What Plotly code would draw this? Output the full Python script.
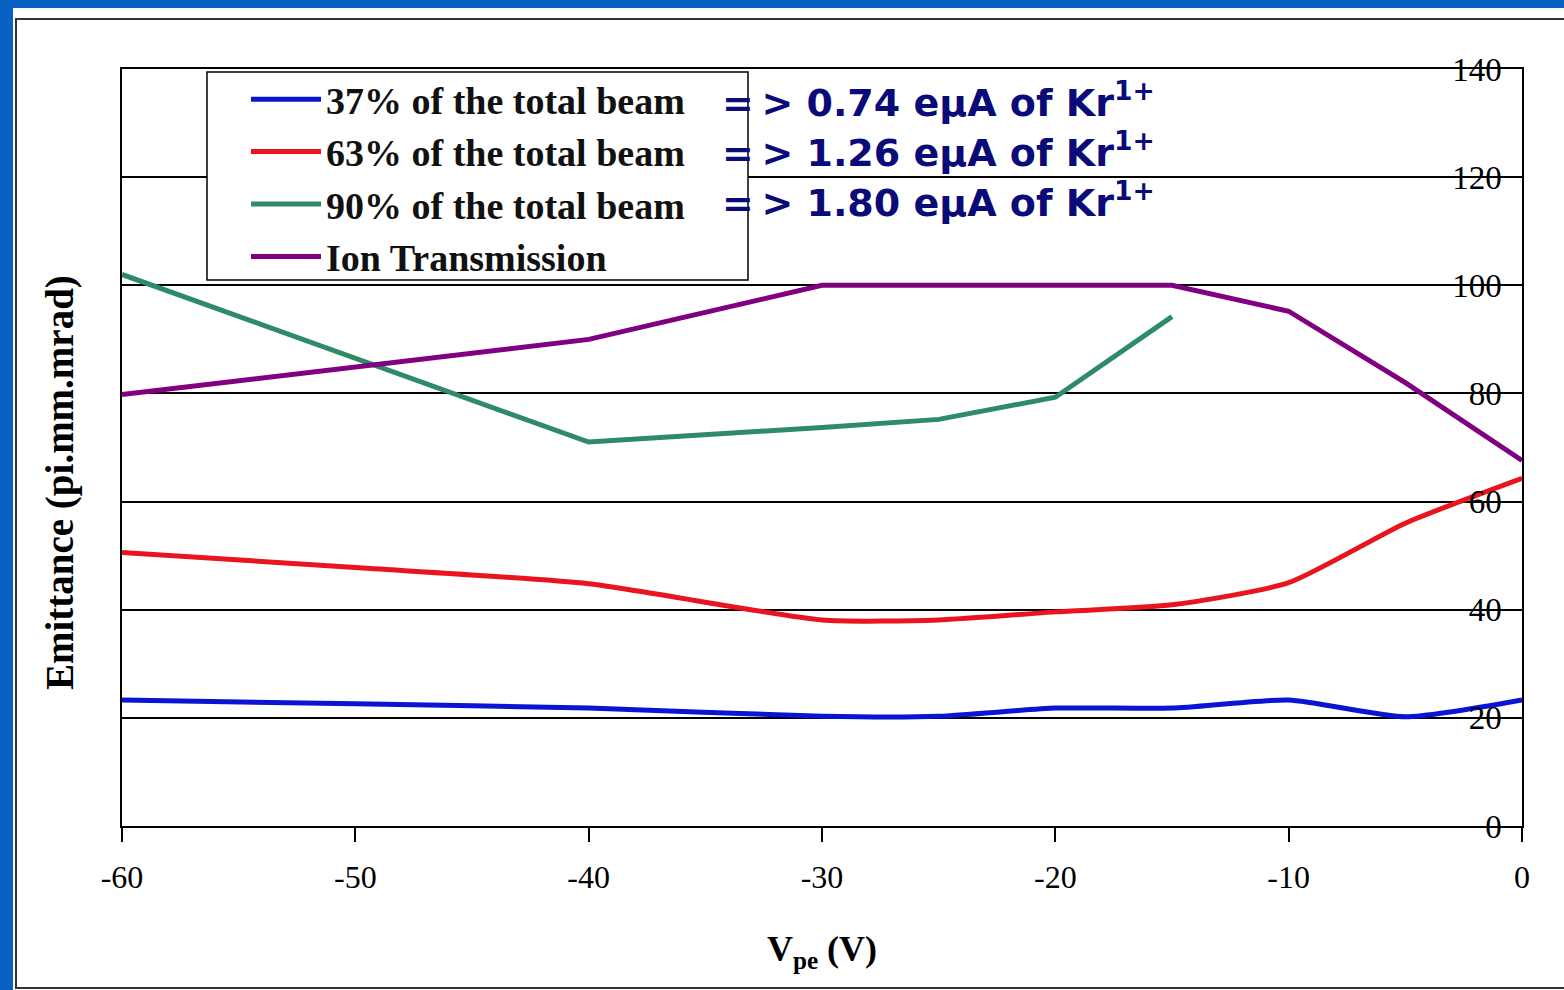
import plotly.graph_objects as go

# ---- data ----
vpe = [-60, -50, -40, -30, -25, -20, -15, -10, -5, 0]
beam37 = [23.3, 22.6, 21.8, 20.3, 20.3, 21.8, 21.8, 23.3, 20.2, 23.3]
beam63 = [50.6, 47.8, 44.8, 38.1, 38.1, 39.6, 40.9, 45.0, 56.0, 64.3]
vpe90 = [-60, -50, -40, -30, -25, -20, -15]
beam90 = [102.0, 86.5, 71.0, 73.7, 75.2, 79.3, 94.2]
ion_trans = [79.8, 85.0, 90.0, 100.0, 100.0, 100.0, 100.0, 95.2, 82.0, 67.6]

series_names = ["37% of the total beam", "63% of the total beam",
                "90% of the total beam", "Ion Transmission"]
currents = ["=\u2009> 0.74 eμA of Kr<sup>1+</sup>", "=\u2009> 1.26 eμA of Kr<sup>1+</sup>",
            "=\u2009> 1.80 eμA of Kr<sup>1+</sup>"]
x_ticks = [-60, -50, -40, -30, -20, -10, 0]
y_ticks = [0, 20, 40, 60, 80, 100, 120, 140]

# ---- pixel helpers (plot area: x 122..1522, y 69..826) ----
L, R, T, B = 122, 1522, 69, 826
def px(x):
    return (x - L) / (R - L)
def py(y):
    return (B - y) / (B - T)

fig = go.Figure()
fig.add_trace(go.Scatter(x=vpe, y=beam37, mode="lines", name=series_names[0],
                         line=dict(color="#0a14d2", width=5, shape="spline", smoothing=0.6)))
fig.add_trace(go.Scatter(x=vpe, y=beam63, mode="lines", name=series_names[1],
                         line=dict(color="#e8141e", width=5, shape="spline", smoothing=0.6)))
fig.add_trace(go.Scatter(x=vpe90, y=beam90, mode="lines", name=series_names[2],
                         line=dict(color="#2e8b66", width=5)))
fig.add_trace(go.Scatter(x=vpe, y=ion_trans, mode="lines", name=series_names[3],
                         line=dict(color="#800080", width=5)))

serif = "Liberation Serif"

shapes = [
    # white slide panel
    dict(type="rect", xref="paper", yref="paper", x0=px(13), x1=px(1600), y0=py(8), y1=py(1000),
         fillcolor="white", line=dict(width=0), layer="below"),
    # outer chart frame
    dict(type="rect", xref="paper", yref="paper", x0=px(16), x1=px(1600), y0=py(19), y1=py(988),
         fillcolor="rgba(0,0,0,0)", line=dict(color="#333333", width=2), layer="below"),
    # legend box
    dict(type="rect", xref="paper", yref="paper", x0=px(207), x1=px(748), y0=py(72), y1=py(280),
         fillcolor="white", line=dict(color="black", width=1.5), layer="above"),
]

annotations = [
    dict(text="Emittance (pi.mm.mrad)", xref="paper", yref="paper", x=px(60), y=py(483),
         textangle=-90, showarrow=False, xanchor="center", yanchor="middle",
         font=dict(family=serif, size=39, color="black", weight="bold")),
]
row_y = [100, 150, 200]
for txt, yy in zip(currents, row_y):
    annotations.append(dict(text="<b>" + txt + "</b>", xref="paper", yref="paper",
                            x=px(720), y=py(yy), xanchor="left", yanchor="middle",
                            showarrow=False,
                            font=dict(family="DejaVu Sans", size=38, color="#0a0a78")))

fig.update_layout(
    width=1564, height=990,
    margin=dict(l=L, r=1564 - R, t=T, b=990 - B),
    paper_bgcolor="#0862c4",
    plot_bgcolor="rgba(0,0,0,0)",
    showlegend=True,
    legend=dict(x=px(246), y=py(68), xanchor="left", yanchor="top",
                bgcolor="rgba(0,0,0,0)", borderwidth=0,
                font=dict(family=serif, size=38, color="#111111", weight="bold"),
                itemwidth=70, tracegroupgap=0),
    xaxis=dict(range=[-60, 0.0001], tickvals=x_ticks, ticktext=[str(v) for v in x_ticks],
               showgrid=False, zeroline=False, showline=True, mirror=True,
               linecolor="black", linewidth=1.5,
               ticks="outside", ticklen=14, tickcolor="black", tickwidth=1.5,
               ticklabeloverflow="allow",
               tickfont=dict(family=serif, size=32, color="black"), ticklabelstandoff=8,
               title=dict(text="V<sub>pe</sub> (V)", standoff=42,
                          font=dict(family=serif, size=36, color="black", weight="bold"))),
    yaxis=dict(range=[0, 140], tickvals=y_ticks, side="right", ticklabelposition="inside",
               ticklabelstandoff=24, ticklabeloverflow="allow",
               showgrid=True, gridcolor="black", gridwidth=1.5, zeroline=False,
               showline=True, mirror=True, linecolor="black", linewidth=1.5, ticks="",
               tickfont=dict(family=serif, size=33, color="black")),
    shapes=shapes,
    annotations=annotations,
)

fig.write_html("out.html")
